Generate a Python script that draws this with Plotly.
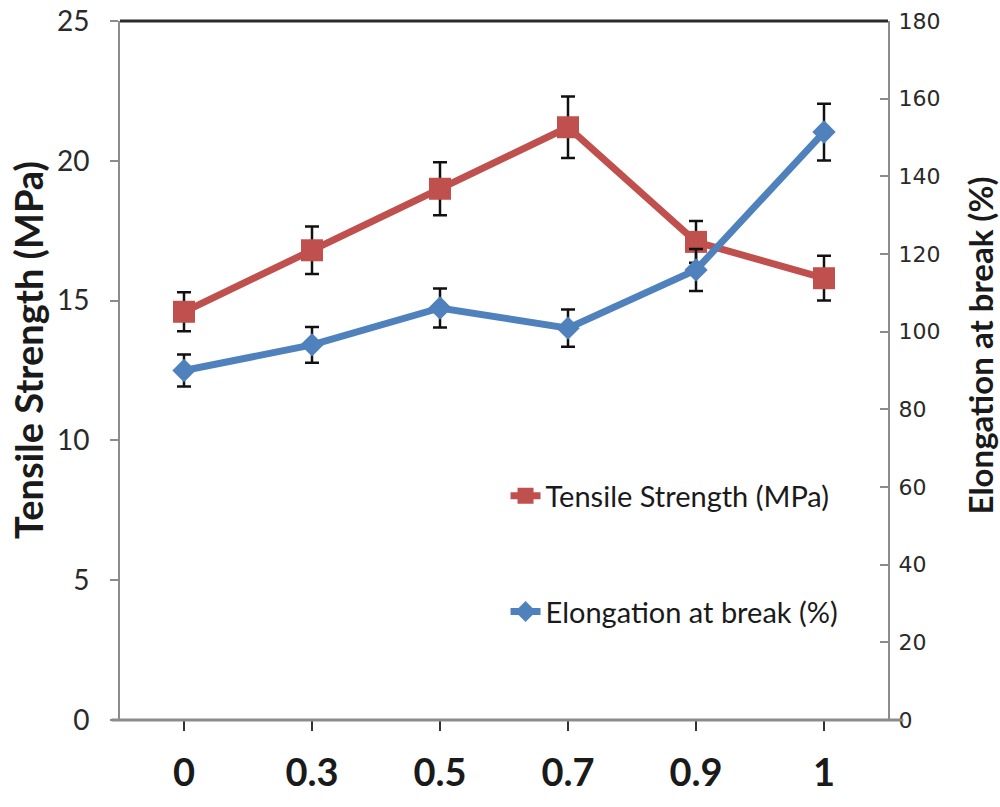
import plotly.graph_objects as go

# Filler loading levels (x categories)
loading = ["0", "0.3", "0.5", "0.7", "0.9", "1"]

# Tensile strength (MPa) with standard deviation
tensile = [14.6, 16.8, 19.0, 21.2, 17.1, 15.8]
tensile_err = [0.7, 0.85, 0.95, 1.1, 0.75, 0.8]

# Elongation at break (%) with standard deviation
elongation = [90.0, 96.6, 106.1, 100.9, 115.9, 151.4]
elongation_err = [4.1, 4.6, 5.0, 4.8, 5.4, 7.3]

RED = "#C0504D"
BLUE = "#4F81BD"
GREY = "#8C8C8C"
SANS = "Lato, Open Sans, sans-serif"

fig = go.Figure()

fig.add_trace(go.Scatter(
    x=loading, y=tensile, name="Tensile Strength (MPa)",
    mode="lines+markers",
    line=dict(color=RED, width=7),
    marker=dict(symbol="square", size=22, color=RED),
    error_y=dict(type="data", array=tensile_err, visible=True,
                 color="#111111", thickness=2.5, width=7),
    legendgroup="ts",
))

fig.add_trace(go.Scatter(
    x=loading, y=elongation, name="Elongation at break (%)",
    mode="lines+markers", yaxis="y2",
    line=dict(color=BLUE, width=7),
    marker=dict(symbol="diamond", size=18, color=BLUE),
    error_y=dict(type="data", array=elongation_err, visible=True,
                 color="#111111", thickness=2.5, width=7),
    legendgroup="el",
))

fig.update_layout(
    width=1000, height=807,
    margin=dict(l=120, r=112, t=21, b=87, autoexpand=False),
    paper_bgcolor="white", plot_bgcolor="white",
    showlegend=True,
    legend=dict(
        x=0.502, y=0.357, xanchor="left", yanchor="top",
        font=dict(family=SANS, size=29, color="#1a1a1a"),
        tracegroupgap=75, bgcolor="rgba(0,0,0,0)",
    ),
    xaxis=dict(
        type="category", range=[-0.5, 5.5], automargin=False,
        showline=False, showgrid=False, zeroline=False,
        ticks="outside", ticklen=10, tickwidth=2, tickcolor="#333333",
        ticklabelstandoff=9,
        tickfont=dict(family=SANS, size=38, color="#1a1a1a", weight="bold"),
    ),
    yaxis=dict(
        range=[0, 25], dtick=5, automargin=False,
        showline=True, linecolor=GREY, linewidth=2,
        showgrid=False, zeroline=False,
        ticks="outside", ticklen=8, tickwidth=2, tickcolor=GREY,
        ticklabelstandoff=15,
        tickfont=dict(family=SANS, size=28, color="#2a2a2a"),
    ),
    yaxis2=dict(
        range=[0, 180], dtick=20, overlaying="y", side="right", automargin=False,
        showline=True, linecolor=GREY, linewidth=2,
        showgrid=False, zeroline=False,
        ticks="inside", ticklen=8, tickwidth=2, tickcolor=GREY,
        ticklabelstandoff=4,
        tickfont=dict(family="DejaVu Sans", size=22, color="#2a2a2a"),
    ),
    shapes=[
        # top border of the plot frame
        dict(type="line", xref="paper", yref="paper", x0=0, x1=1, y0=1, y1=1,
             line=dict(color="#2b2b2b", width=3)),
        # horizontal base axis, slightly overhanging the frame
        dict(type="line", xref="paper", yref="paper", x0=-0.011, x1=1.02, y0=0, y1=0,
             line=dict(color=GREY, width=3)),
    ],
    annotations=[
        dict(text="<b>Tensile Strength (MPa)</b>", textangle=-90,
             xref="paper", yref="paper", x=-0.12, y=0.529,
             xanchor="center", yanchor="middle", showarrow=False,
             font=dict(family=SANS, size=38, color="#1a1a1a")),
        dict(text="<b>Elongation at break (%)</b>", textangle=-90,
             xref="paper", yref="paper", x=1.12, y=0.536,
             xanchor="center", yanchor="middle", showarrow=False,
             font=dict(family=SANS, size=33, color="#1a1a1a")),
    ],
)

fig.write_html("out.html")
